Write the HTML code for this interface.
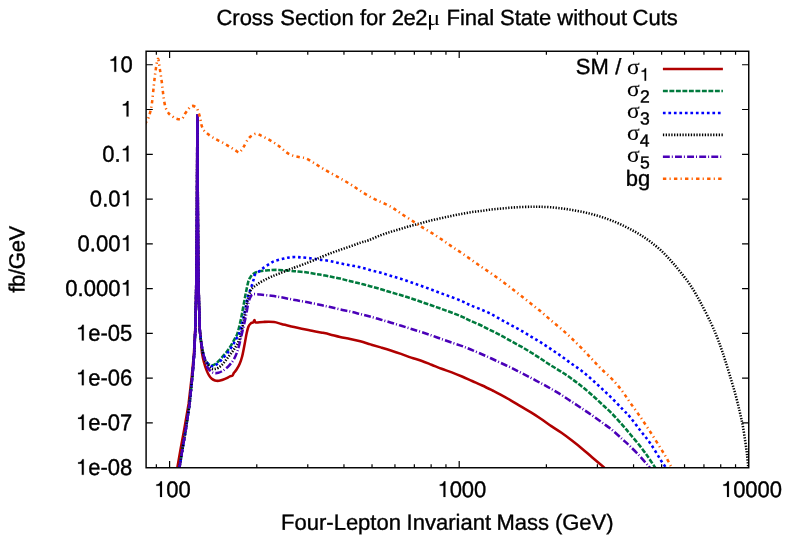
<!DOCTYPE html>
<html><head><meta charset="utf-8"><title>Cross Section</title>
<style>html,body{margin:0;padding:0;background:#fff;width:789px;height:541px;overflow:hidden}</style>
</head><body>
<svg width="789" height="541" viewBox="0 0 789 541" style="display:block;position:absolute;left:0;top:0;will-change:transform">
<rect x="0" y="0" width="789" height="541" fill="#fff"/>
<g>
<rect x="0" y="0" width="789" height="541" fill="#fff"/>
<clipPath id="cp"><rect x="146.1" y="51.25" width="602.65" height="416.5"/></clipPath>
<g clip-path="url(#cp)" fill="none" stroke-linejoin="round">
<path d="M177.30,468.00L180.60,449.00L184.30,428.90L188.60,404.00L191.80,376.20L193.90,354.00L195.20,330.00L196.00,300.00L196.50,270.00L196.90,220.00L197.20,160.00L197.35,115.60L197.45,115.60L197.60,160.00L197.90,220.00L198.30,270.00L198.90,300.00L199.80,330.00" stroke="#b00000" stroke-width="2.55"/>
<path d="M199.80,330.00C200.00,331.85 200.62,337.17 201.00,341.10C201.38,345.03 201.58,350.00 202.10,353.60C202.62,357.20 203.35,359.90 204.10,362.70C204.85,365.50 205.75,368.25 206.60,370.40C207.45,372.55 208.33,374.20 209.20,375.60C210.07,377.00 210.83,377.98 211.80,378.80C212.77,379.62 213.82,380.17 215.00,380.50C216.18,380.83 217.60,380.93 218.90,380.80C220.20,380.67 221.50,380.13 222.80,379.70C224.10,379.27 225.52,378.77 226.70,378.20C227.88,377.63 228.93,376.73 229.90,376.30C230.87,375.87 231.85,376.15 232.50,375.60C233.15,375.05 233.15,373.97 233.80,373.00C234.45,372.03 235.43,371.30 236.40,369.80C237.37,368.30 238.63,366.27 239.60,364.00C240.57,361.73 241.33,359.65 242.20,356.20C243.07,352.75 244.05,347.18 244.80,343.30C245.55,339.42 246.08,335.72 246.70,332.90C247.32,330.08 247.82,327.98 248.50,326.40C249.18,324.82 250.02,324.07 250.80,323.40C251.58,322.73 252.58,322.98 253.20,322.40C253.82,321.82 254.07,319.90 254.50,319.90C254.93,319.90 254.35,322.07 255.80,322.40C257.25,322.73 260.17,321.97 263.20,321.90C266.23,321.83 270.97,321.65 274.00,322.00C277.03,322.35 278.47,323.27 281.40,324.00C284.33,324.73 288.22,325.62 291.60,326.40C294.98,327.18 298.32,327.98 301.70,328.70C305.08,329.42 308.50,330.03 311.90,330.70C315.30,331.37 319.08,332.08 322.10,332.70C325.12,333.32 327.02,333.70 330.00,334.40C332.98,335.10 336.63,336.15 340.00,336.90C343.37,337.65 346.82,338.17 350.20,338.90C353.58,339.63 356.92,340.38 360.30,341.30C363.68,342.22 367.10,343.38 370.50,344.40C373.90,345.42 377.32,346.38 380.70,347.40C384.08,348.42 387.42,349.42 390.80,350.50C394.18,351.58 397.60,352.72 401.00,353.90C404.40,355.08 407.82,356.47 411.20,357.60C414.58,358.73 417.92,359.52 421.30,360.70C424.68,361.88 428.12,363.35 431.50,364.70C434.88,366.05 438.22,367.52 441.60,368.80C444.98,370.08 448.40,371.12 451.80,372.40C455.20,373.68 458.62,375.07 462.00,376.50C465.38,377.93 468.72,379.50 472.10,381.00C475.48,382.50 478.90,383.92 482.30,385.50C485.70,387.08 489.47,388.98 492.50,390.50C495.53,392.02 497.47,392.97 500.50,394.60C503.53,396.23 507.32,398.33 510.70,400.30C514.08,402.27 517.42,404.38 520.80,406.40C524.18,408.42 527.60,410.30 531.00,412.40C534.40,414.50 537.82,416.72 541.20,419.00C544.58,421.28 547.92,423.80 551.30,426.10C554.68,428.40 558.12,430.43 561.50,432.80C564.88,435.17 568.22,437.70 571.60,440.30C574.98,442.90 578.40,445.58 581.80,448.40C585.20,451.22 588.62,454.32 592.00,457.20C595.38,460.08 599.97,463.87 602.10,465.70C604.23,467.53 604.35,467.78 604.80,468.20" stroke="#b00000" stroke-width="2.55"/>
<path d="M179.40,468.00L182.50,449.00L185.90,428.90L189.60,404.00L192.40,376.20L194.20,354.00L195.30,330.00L196.00,300.00L196.50,270.00L196.90,220.00L197.20,160.00L197.35,115.60L197.45,115.60L197.60,160.00L197.90,220.00L198.30,270.00L198.90,300.00L199.80,330.00" stroke="#007a3d" stroke-width="2.55" stroke-dasharray="4.9 1.6"/>
<path d="M199.80,330.00C200.00,331.85 200.48,337.40 201.00,341.10C201.52,344.80 202.32,349.38 202.90,352.20C203.48,355.02 203.98,356.47 204.50,358.00C205.02,359.53 205.22,360.30 206.00,361.40C206.78,362.50 208.12,363.95 209.20,364.60C210.28,365.25 211.42,365.45 212.50,365.30C213.58,365.15 214.52,364.57 215.70,363.70C216.88,362.83 218.32,361.45 219.60,360.10C220.88,358.75 222.12,357.12 223.40,355.60C224.68,354.08 226.00,352.73 227.30,351.00C228.60,349.27 229.90,347.35 231.20,345.20C232.50,343.05 234.05,340.12 235.10,338.10C236.15,336.08 236.55,336.15 237.50,333.10C238.45,330.05 239.83,324.23 240.80,319.80C241.77,315.37 242.47,310.93 243.30,306.50C244.13,302.07 244.97,297.35 245.80,293.20C246.63,289.05 247.47,284.37 248.30,281.60C249.13,278.83 249.83,277.98 250.80,276.60C251.77,275.22 252.58,274.18 254.10,273.30C255.62,272.42 257.55,271.80 259.90,271.30C262.25,270.80 265.15,270.53 268.20,270.30C271.25,270.07 274.57,269.82 278.20,269.90C281.83,269.98 287.10,270.57 290.00,270.80C292.90,271.03 292.97,271.05 295.60,271.30C298.23,271.55 302.40,271.85 305.80,272.30C309.20,272.75 313.63,273.62 316.00,274.00C318.37,274.38 317.63,274.17 320.00,274.60C322.37,275.03 326.82,275.93 330.20,276.60C333.58,277.27 336.92,277.82 340.30,278.60C343.68,279.38 347.10,280.45 350.50,281.30C353.90,282.15 357.32,282.85 360.70,283.70C364.08,284.55 367.42,285.48 370.80,286.40C374.18,287.32 377.60,288.20 381.00,289.20C384.40,290.20 387.82,291.38 391.20,292.40C394.58,293.42 397.92,294.28 401.30,295.30C404.68,296.32 408.12,297.38 411.50,298.50C414.88,299.62 418.22,300.83 421.60,302.00C424.98,303.17 428.40,304.32 431.80,305.50C435.20,306.68 438.62,307.88 442.00,309.10C445.38,310.32 448.72,311.52 452.10,312.80C455.48,314.08 459.32,315.50 462.30,316.80C465.28,318.10 467.02,319.23 470.00,320.60C472.98,321.97 476.82,323.42 480.20,325.00C483.58,326.58 486.92,328.40 490.30,330.10C493.68,331.80 497.10,333.40 500.50,335.20C503.90,337.00 507.32,339.03 510.70,340.90C514.08,342.77 517.42,344.47 520.80,346.40C524.18,348.33 527.60,350.40 531.00,352.50C534.40,354.60 537.82,356.80 541.20,359.00C544.58,361.20 547.92,363.57 551.30,365.70C554.68,367.83 558.12,369.63 561.50,371.80C564.88,373.97 568.22,376.27 571.60,378.70C574.98,381.13 578.40,383.68 581.80,386.40C585.20,389.12 588.62,392.02 592.00,395.00C595.38,397.98 598.72,401.15 602.10,404.30C605.48,407.45 608.90,410.43 612.30,413.90C615.70,417.37 619.52,421.72 622.50,425.10C625.48,428.48 627.23,430.65 630.20,434.20C633.17,437.75 637.25,442.50 640.30,446.40C643.35,450.30 646.18,454.32 648.50,457.60C650.82,460.88 653.02,464.33 654.20,466.10C655.38,467.87 655.37,467.85 655.60,468.20" stroke="#007a3d" stroke-width="2.55" stroke-dasharray="4.9 1.6"/>
<path d="M179.40,468.00L182.50,449.00L185.90,428.90L189.60,404.00L192.40,376.20L194.20,354.00L195.30,330.00L196.00,300.00L196.50,270.00L196.90,220.00L197.20,160.00L197.35,115.60L197.45,115.60L197.60,160.00L197.90,220.00L198.30,270.00L198.90,300.00L199.80,330.00" stroke="#0000ff" stroke-width="2.55" stroke-dasharray="2.7 2.8"/>
<path d="M199.80,330.00C200.00,331.85 200.48,337.40 201.00,341.10C201.52,344.80 202.28,349.33 202.90,352.20C203.52,355.07 204.12,356.67 204.70,358.30C205.28,359.93 205.58,360.82 206.40,362.00C207.22,363.18 208.53,364.70 209.60,365.40C210.67,366.10 211.70,366.30 212.80,366.20C213.90,366.10 214.97,365.63 216.20,364.80C217.43,363.97 218.87,362.53 220.20,361.20C221.53,359.87 222.87,358.33 224.20,356.80C225.53,355.27 226.87,353.77 228.20,352.00C229.53,350.23 230.87,348.37 232.20,346.20C233.53,344.03 234.90,341.47 236.20,339.00C237.50,336.53 238.80,334.90 240.00,331.40C241.20,327.90 242.30,322.85 243.40,318.00C244.50,313.15 245.78,306.15 246.60,302.30C247.42,298.45 247.60,297.20 248.30,294.90C249.00,292.60 249.97,290.87 250.80,288.50C251.63,286.13 252.62,282.97 253.30,280.70C253.98,278.43 253.80,276.55 254.90,274.90C256.00,273.25 258.37,272.05 259.90,270.80C261.43,269.55 262.57,268.52 264.10,267.40C265.63,266.28 267.58,265.07 269.10,264.10C270.62,263.13 271.68,262.28 273.20,261.60C274.72,260.92 276.40,260.50 278.20,260.00C280.00,259.50 282.20,259.02 284.00,258.60C285.80,258.18 287.17,257.77 289.00,257.50C290.83,257.23 292.88,257.01 295.00,257.00C297.12,256.99 298.88,257.21 301.70,257.45C304.52,257.69 308.85,258.08 311.90,258.45C314.95,258.82 316.95,259.22 320.00,259.65C323.05,260.08 326.82,260.43 330.20,261.05C333.58,261.67 336.92,262.63 340.30,263.35C343.68,264.07 347.10,264.68 350.50,265.35C353.90,266.02 357.32,266.53 360.70,267.35C364.08,268.17 367.42,269.33 370.80,270.25C374.18,271.17 377.60,271.90 381.00,272.85C384.40,273.80 387.82,274.93 391.20,275.95C394.58,276.97 397.92,277.87 401.30,278.95C404.68,280.03 408.12,281.27 411.50,282.45C414.88,283.63 418.22,284.83 421.60,286.05C424.98,287.27 428.40,288.48 431.80,289.75C435.20,291.02 438.62,292.40 442.00,293.65C445.38,294.90 448.72,295.97 452.10,297.25C455.48,298.53 459.32,300.05 462.30,301.35C465.28,302.65 467.02,303.75 470.00,305.05C472.98,306.35 476.82,307.72 480.20,309.15C483.58,310.58 486.92,311.95 490.30,313.65C493.68,315.35 497.10,317.47 500.50,319.35C503.90,321.23 507.32,323.10 510.70,324.95C514.08,326.80 517.42,328.52 520.80,330.45C524.18,332.38 527.60,334.52 531.00,336.55C534.40,338.58 537.82,340.52 541.20,342.65C544.58,344.78 547.92,347.07 551.30,349.35C554.68,351.63 558.12,353.95 561.50,356.35C564.88,358.75 568.22,361.32 571.60,363.75C574.98,366.18 578.40,368.30 581.80,370.95C585.20,373.60 588.62,376.67 592.00,379.65C595.38,382.63 598.72,385.70 602.10,388.85C605.48,392.00 608.90,395.17 612.30,398.55C615.70,401.93 619.52,406.03 622.50,409.15C625.48,412.27 627.23,413.70 630.20,417.25C633.17,420.80 636.92,426.05 640.30,430.45C643.68,434.85 647.10,438.73 650.50,443.65C653.90,448.57 658.27,456.15 660.70,459.95C663.13,463.75 664.15,465.02 665.10,466.45C666.05,467.88 666.18,468.20 666.40,468.55" stroke="#0000ff" stroke-width="2.55" stroke-dasharray="2.7 2.8"/>
<path d="M179.40,468.00L182.50,449.00L185.90,428.90L189.60,404.00L192.40,376.20L194.20,354.00L195.30,330.00L196.00,300.00L196.50,270.00L196.90,220.00L197.20,160.00L197.35,115.60L197.45,115.60L197.60,160.00L197.90,220.00L198.30,270.00L198.90,300.00L199.80,330.00" stroke="#000000" stroke-width="2.55" stroke-dasharray="1.3 1.49"/>
<path d="M199.80,330.00C200.00,331.85 200.48,337.40 201.00,341.10C201.52,344.80 202.23,349.05 202.90,352.20C203.57,355.35 204.17,357.82 205.00,360.00C205.83,362.18 206.87,363.88 207.90,365.30C208.93,366.72 210.12,367.87 211.20,368.50C212.28,369.13 213.22,369.22 214.40,369.10C215.58,368.98 217.00,368.55 218.30,367.80C219.60,367.05 220.92,365.88 222.20,364.60C223.48,363.32 224.72,361.72 226.00,360.10C227.28,358.48 228.60,356.63 229.90,354.90C231.20,353.17 232.62,351.42 233.80,349.70C234.98,347.98 236.00,346.47 237.00,344.60C238.00,342.73 239.03,340.70 239.80,338.50C240.57,336.30 240.88,334.80 241.60,331.40C242.32,328.00 243.27,322.53 244.10,318.10C244.93,313.67 245.77,308.67 246.60,304.80C247.43,300.93 248.27,297.53 249.10,294.90C249.93,292.27 250.35,290.67 251.60,289.00C252.85,287.33 254.67,286.28 256.60,284.90C258.53,283.52 260.72,282.08 263.20,280.70C265.68,279.32 268.72,277.83 271.50,276.60C274.28,275.37 276.82,274.55 279.90,273.30C282.98,272.05 287.38,270.12 290.00,269.10C292.62,268.08 292.97,268.15 295.60,267.20C298.23,266.25 302.40,264.72 305.80,263.40C309.20,262.08 313.63,260.28 316.00,259.30C318.37,258.32 317.63,258.48 320.00,257.50C322.37,256.52 326.82,254.68 330.20,253.40C333.58,252.12 336.92,250.98 340.30,249.80C343.68,248.62 347.10,247.50 350.50,246.30C353.90,245.10 357.65,243.62 360.70,242.60C363.75,241.58 365.58,241.38 368.80,240.20C372.02,239.02 376.43,236.87 380.00,235.50C383.57,234.13 386.82,233.08 390.20,232.00C393.58,230.92 396.92,230.02 400.30,229.00C403.68,227.98 407.10,226.85 410.50,225.90C413.90,224.95 417.32,224.20 420.70,223.30C424.08,222.40 427.42,221.35 430.80,220.50C434.18,219.65 437.60,218.95 441.00,218.20C444.40,217.45 447.82,216.72 451.20,216.00C454.58,215.28 457.92,214.55 461.30,213.90C464.68,213.25 468.17,212.60 471.50,212.10C474.83,211.60 477.97,211.33 481.30,210.90C484.63,210.47 488.10,209.90 491.50,209.50C494.90,209.10 498.32,208.82 501.70,208.50C505.08,208.18 508.42,207.85 511.80,207.60C515.18,207.35 518.60,207.13 522.00,207.00C525.40,206.87 529.20,206.83 532.20,206.80C535.20,206.77 537.00,206.73 540.00,206.80C543.00,206.87 546.80,206.95 550.20,207.20C553.60,207.45 557.02,207.88 560.40,208.30C563.78,208.72 567.12,209.17 570.50,209.70C573.88,210.23 577.30,210.80 580.70,211.50C584.10,212.20 587.52,213.02 590.90,213.90C594.28,214.78 597.62,215.72 601.00,216.80C604.38,217.88 607.82,219.08 611.20,220.40C614.58,221.72 617.92,223.13 621.30,224.70C624.68,226.27 628.10,227.97 631.50,229.80C634.90,231.63 638.32,233.53 641.70,235.70C645.08,237.87 648.42,240.20 651.80,242.80C655.18,245.40 658.68,248.17 662.00,251.30C665.32,254.43 668.58,258.08 671.70,261.60C674.82,265.12 677.50,268.33 680.70,272.40C683.90,276.47 687.52,280.85 690.90,286.00C694.28,291.15 697.62,297.03 701.00,303.30C704.38,309.57 708.48,317.85 711.20,323.60C713.92,329.35 715.60,333.57 717.30,337.80C719.00,342.03 720.08,345.23 721.40,349.00C722.72,352.77 723.68,355.62 725.20,360.40C726.72,365.18 728.77,371.93 730.50,377.70C732.23,383.47 734.08,389.42 735.60,395.00C737.12,400.58 738.42,406.13 739.60,411.20C740.78,416.27 741.75,420.32 742.70,425.40C743.65,430.48 744.55,436.62 745.30,441.70C746.05,446.78 746.70,451.53 747.20,455.90C747.70,460.27 748.12,465.90 748.30,467.90" stroke="#000000" stroke-width="2.55" stroke-dasharray="1.3 1.49"/>
<path d="M192.40,376.20L194.20,354.00L195.30,330.00L196.00,300.00L196.50,270.00L196.90,220.00L197.20,160.00L197.35,115.60L197.45,115.60L197.60,160.00L197.90,220.00L198.30,270.00L198.90,300.00L199.80,330.00" stroke="#4a00b8" stroke-width="2.55"/>
<path d="M179.40,468.00L182.50,449.00L185.90,428.90L189.60,404.00L192.40,376.20L194.20,354.00L195.30,330.00L196.00,300.00L196.50,270.00L196.90,220.00L197.20,160.00L197.35,115.60L197.45,115.60L197.60,160.00L197.90,220.00L198.30,270.00L198.90,300.00L199.80,330.00" stroke="#4a00b8" stroke-width="2.55" stroke-dasharray="6.9 2.0 1.0 2.2"/>
<path d="M199.80,330.00C200.00,331.85 200.48,337.40 201.00,341.10C201.52,344.80 202.23,348.97 202.90,352.20C203.57,355.43 204.27,358.00 205.00,360.50C205.73,363.00 206.38,365.43 207.30,367.20C208.22,368.97 209.32,370.13 210.50,371.10C211.68,372.07 213.10,372.72 214.40,373.00C215.70,373.28 217.00,373.12 218.30,372.80C219.60,372.48 220.92,371.82 222.20,371.10C223.48,370.38 224.72,369.58 226.00,368.50C227.28,367.42 228.60,366.12 229.90,364.60C231.20,363.08 232.62,361.45 233.80,359.40C234.98,357.35 236.03,354.98 237.00,352.30C237.97,349.62 238.72,346.68 239.60,343.30C240.48,339.92 241.27,336.47 242.30,332.00C243.33,327.53 244.80,321.30 245.80,316.50C246.80,311.70 247.47,306.53 248.30,303.20C249.13,299.87 249.97,298.00 250.80,296.50C251.63,295.00 251.78,294.52 253.30,294.20C254.82,293.88 256.87,294.33 259.90,294.60C262.93,294.87 267.92,295.35 271.50,295.80C275.08,296.25 278.05,296.70 281.40,297.30C284.75,297.90 288.22,298.75 291.60,299.40C294.98,300.05 298.32,300.57 301.70,301.20C305.08,301.83 308.50,302.52 311.90,303.20C315.30,303.88 319.05,304.65 322.10,305.30C325.15,305.95 327.17,306.40 330.20,307.10C333.23,307.80 336.92,308.75 340.30,309.50C343.68,310.25 347.10,310.82 350.50,311.60C353.90,312.38 357.32,313.33 360.70,314.20C364.08,315.07 367.42,315.88 370.80,316.80C374.18,317.72 377.60,318.72 381.00,319.70C384.40,320.68 387.82,321.68 391.20,322.70C394.58,323.72 397.92,324.75 401.30,325.80C404.68,326.85 408.12,327.95 411.50,329.00C414.88,330.05 418.22,331.02 421.60,332.10C424.98,333.18 428.40,334.32 431.80,335.50C435.20,336.68 438.62,338.00 442.00,339.20C445.38,340.40 448.72,341.55 452.10,342.70C455.48,343.85 459.28,345.00 462.30,346.10C465.32,347.20 467.22,348.07 470.20,349.30C473.18,350.53 476.85,352.05 480.20,353.50C483.55,354.95 486.92,356.45 490.30,358.00C493.68,359.55 497.10,361.23 500.50,362.80C503.90,364.37 507.32,365.77 510.70,367.40C514.08,369.03 517.42,370.85 520.80,372.60C524.18,374.35 527.60,376.10 531.00,377.90C534.40,379.70 537.82,381.57 541.20,383.40C544.58,385.23 547.92,386.97 551.30,388.90C554.68,390.83 558.12,392.87 561.50,395.00C564.88,397.13 568.22,399.47 571.60,401.70C574.98,403.93 578.40,406.13 581.80,408.40C585.20,410.67 588.62,412.93 592.00,415.30C595.38,417.67 598.72,420.13 602.10,422.60C605.48,425.07 608.90,427.32 612.30,430.10C615.70,432.88 619.52,436.58 622.50,439.30C625.48,442.02 627.23,443.52 630.20,446.40C633.17,449.28 637.25,453.32 640.30,456.60C643.35,459.88 646.85,464.17 648.50,466.10C650.15,468.03 649.92,467.85 650.20,468.20" stroke="#4a00b8" stroke-width="2.55" stroke-dasharray="6.9 2.0 1.0 2.2"/>
<path d="M145.00,124.00C145.18,123.70 145.42,123.50 146.10,122.20C146.78,120.90 148.15,119.23 149.10,116.20C150.05,113.17 151.02,109.08 151.80,104.00C152.58,98.92 153.18,91.13 153.80,85.70C154.42,80.27 154.82,75.88 155.50,71.40C156.18,66.92 157.17,59.13 157.90,58.80C158.63,58.47 159.22,65.27 159.90,69.40C160.58,73.53 161.42,79.20 162.00,83.60C162.58,88.00 162.83,91.90 163.40,95.80C163.97,99.70 164.55,104.12 165.40,107.00C166.25,109.88 167.73,111.85 168.50,113.10C169.27,114.35 168.77,113.60 170.00,114.50C171.23,115.40 173.93,117.77 175.90,118.50C177.87,119.23 180.32,119.65 181.80,118.90C183.28,118.15 183.68,115.67 184.80,114.00C185.92,112.33 187.27,110.25 188.50,108.90C189.73,107.55 190.85,106.03 192.20,105.90C193.55,105.77 195.50,106.87 196.60,108.10C197.70,109.33 198.18,111.57 198.80,113.30C199.42,115.03 199.88,116.65 200.30,118.50C200.72,120.35 200.80,122.55 201.30,124.40C201.80,126.25 202.37,128.12 203.30,129.60C204.23,131.08 205.07,131.83 206.90,133.30C208.73,134.77 211.83,136.93 214.30,138.40C216.77,139.87 219.23,140.77 221.70,142.10C224.17,143.43 226.80,145.02 229.10,146.40C231.40,147.78 233.87,149.38 235.50,150.40C237.13,151.42 238.05,152.37 238.90,152.50C239.75,152.63 239.88,152.00 240.60,151.20C241.32,150.40 241.95,149.73 243.20,147.70C244.45,145.67 246.58,141.07 248.10,139.00C249.62,136.93 250.90,136.20 252.30,135.30C253.70,134.40 254.98,133.52 256.50,133.60C258.02,133.68 259.67,134.97 261.40,135.80C263.13,136.63 265.17,137.67 266.90,138.60C268.63,139.53 270.17,140.43 271.80,141.40C273.43,142.37 275.18,143.35 276.70,144.40C278.22,145.45 279.50,146.58 280.90,147.70C282.30,148.82 283.70,150.02 285.10,151.10C286.50,152.18 287.68,153.35 289.30,154.20C290.92,155.05 292.95,155.67 294.80,156.20C296.65,156.73 298.53,157.02 300.40,157.40C302.27,157.78 303.63,157.50 306.00,158.50C308.37,159.50 311.65,161.63 314.60,163.40C317.55,165.17 320.48,167.20 323.70,169.10C326.92,171.00 330.68,173.00 333.90,174.80C337.12,176.60 339.95,178.13 343.00,179.90C346.05,181.67 349.15,183.47 352.20,185.40C355.25,187.33 358.08,189.47 361.30,191.50C364.52,193.53 368.12,195.80 371.50,197.60C374.88,199.40 378.22,200.68 381.60,202.30C384.98,203.92 388.68,205.50 391.80,207.30C394.92,209.10 397.18,211.05 400.30,213.10C403.42,215.15 407.10,217.38 410.50,219.60C413.90,221.82 417.32,224.27 420.70,226.40C424.08,228.53 427.42,230.30 430.80,232.40C434.18,234.50 437.60,236.72 441.00,239.00C444.40,241.28 447.82,243.80 451.20,246.10C454.58,248.40 457.92,250.50 461.30,252.80C464.68,255.10 468.12,257.53 471.50,259.90C474.88,262.27 478.22,264.67 481.60,267.00C484.98,269.33 488.40,271.53 491.80,273.90C495.20,276.27 498.62,278.72 502.00,281.20C505.38,283.68 508.97,286.40 512.10,288.80C515.23,291.20 517.65,293.12 520.80,295.60C523.95,298.08 527.60,301.00 531.00,303.70C534.40,306.40 537.82,308.98 541.20,311.80C544.58,314.62 547.92,317.72 551.30,320.60C554.68,323.48 558.12,326.15 561.50,329.10C564.88,332.05 568.22,335.08 571.60,338.30C574.98,341.52 578.40,344.92 581.80,348.40C585.20,351.88 588.78,355.80 592.00,359.20C595.22,362.60 597.72,365.45 601.10,368.80C604.48,372.15 608.73,375.52 612.30,379.30C615.87,383.08 619.52,387.60 622.50,391.50C625.48,395.40 627.23,398.47 630.20,402.70C633.17,406.93 636.92,411.98 640.30,416.90C643.68,421.82 647.10,426.95 650.50,432.20C653.90,437.45 657.98,444.00 660.70,448.40C663.42,452.80 665.12,455.65 666.80,458.60C668.48,461.55 669.93,464.48 670.80,466.10C671.67,467.72 671.80,467.93 672.00,468.30" stroke="#ff6000" stroke-width="2.55" stroke-dasharray="3.4 3.2 1.2 3.25"/>
</g>
<path d="M662.9,69.00H722.9" stroke="#b00000" stroke-width="2.55" fill="none"/>
<path d="M662.9,90.96H722.9" stroke="#007a3d" stroke-width="2.55" fill="none" stroke-dasharray="4.9 1.6"/>
<path d="M662.9,112.92H722.9" stroke="#0000ff" stroke-width="2.55" fill="none" stroke-dasharray="2.7 2.8"/>
<path d="M662.9,134.88H722.9" stroke="#000000" stroke-width="2.55" fill="none" stroke-dasharray="1.3 1.49"/>
<path d="M662.9,156.84H722.9" stroke="#4a00b8" stroke-width="2.55" fill="none" stroke-dasharray="6.9 2.0 1.0 2.2"/>
<path d="M662.9,178.80H722.9" stroke="#ff6000" stroke-width="2.55" fill="none" stroke-dasharray="3.4 3.2 1.2 3.25"/>
<g stroke="#000" stroke-width="1.45" fill="none">
<rect x="146.1" y="51.25" width="602.65" height="416.5"/>
<path d="M146.1,422.91h6.7M748.75,422.91h-6.7M146.1,378.14h6.7M748.75,378.14h-6.7M146.1,333.37h6.7M748.75,333.37h-6.7M146.1,288.60h6.7M748.75,288.60h-6.7M146.1,243.83h6.7M748.75,243.83h-6.7M146.1,199.06h6.7M748.75,199.06h-6.7M146.1,154.29h6.7M748.75,154.29h-6.7M146.1,109.52h6.7M748.75,109.52h-6.7M146.1,64.75h6.7M748.75,64.75h-6.7M156.35,467.75v-3.4M156.35,51.25v3.4M169.60,467.75v-6.7M169.60,51.25v6.7M256.78,467.75v-3.4M256.78,51.25v3.4M307.77,467.75v-3.4M307.77,51.25v3.4M343.96,467.75v-3.4M343.96,51.25v3.4M372.02,467.75v-3.4M372.02,51.25v3.4M394.95,467.75v-3.4M394.95,51.25v3.4M414.34,467.75v-3.4M414.34,51.25v3.4M431.13,467.75v-3.4M431.13,51.25v3.4M445.95,467.75v-3.4M445.95,51.25v3.4M459.20,467.75v-6.7M459.20,51.25v6.7M546.38,467.75v-3.4M546.38,51.25v3.4M597.37,467.75v-3.4M597.37,51.25v3.4M633.56,467.75v-3.4M633.56,51.25v3.4M661.62,467.75v-3.4M661.62,51.25v3.4M684.55,467.75v-3.4M684.55,51.25v3.4M703.94,467.75v-3.4M703.94,51.25v3.4M720.73,467.75v-3.4M720.73,51.25v3.4M735.55,467.75v-3.4M735.55,51.25v3.4" stroke-width="1.2"/>
</g>
<g font-family="Liberation Sans, sans-serif" font-size="22.0px" fill="#000" stroke="#000" stroke-width="0.36" stroke-linejoin="round">
<path transform="translate(108.30,71.85) scale(22.0,-22.0)" d="M0.359,0L0.271,0L0.271,0.505L0.101,0.505L0.101,0.566C0.190,0.572 0.262,0.605 0.293,0.709L0.359,0.709Z" stroke-width="0.0082"/>
<text x="120.60" y="71.85" transform="rotate(0.03 120.6 71.8) translate(0,64.04) scale(1,1.04) translate(0,-64.04)">0</text>
<path transform="translate(120.60,116.62) scale(22.0,-22.0)" d="M0.359,0L0.271,0L0.271,0.505L0.101,0.505L0.101,0.566C0.190,0.572 0.262,0.605 0.293,0.709L0.359,0.709Z" stroke-width="0.0082"/>
<path transform="translate(120.60,161.39) scale(22.0,-22.0)" d="M0.359,0L0.271,0L0.271,0.505L0.101,0.505L0.101,0.566C0.190,0.572 0.262,0.605 0.293,0.709L0.359,0.709Z" stroke-width="0.0082"/>
<text x="102.18 114.48" y="161.39" transform="rotate(0.03 108.3 161.4) translate(0,153.58) scale(1,1.04) translate(0,-153.58)">0.</text>
<path transform="translate(120.60,206.16) scale(22.0,-22.0)" d="M0.359,0L0.271,0L0.271,0.505L0.101,0.505L0.101,0.566C0.190,0.572 0.262,0.605 0.293,0.709L0.359,0.709Z" stroke-width="0.0082"/>
<text x="89.88 102.18 108.30" y="206.16" transform="rotate(0.03 99.1 206.2) translate(0,198.35) scale(1,1.04) translate(0,-198.35)">0.0</text>
<path transform="translate(120.60,250.93) scale(22.0,-22.0)" d="M0.359,0L0.271,0L0.271,0.505L0.101,0.505L0.101,0.566C0.190,0.572 0.262,0.605 0.293,0.709L0.359,0.709Z" stroke-width="0.0082"/>
<text x="77.58 89.88 96.00 108.30" y="250.93" transform="rotate(0.03 92.9 250.9) translate(0,243.12) scale(1,1.04) translate(0,-243.12)">0.00</text>
<path transform="translate(120.60,295.70) scale(22.0,-22.0)" d="M0.359,0L0.271,0L0.271,0.505L0.101,0.505L0.101,0.566C0.190,0.572 0.262,0.605 0.293,0.709L0.359,0.709Z" stroke-width="0.0082"/>
<text x="65.28 77.58 83.70 96.00 108.30" y="295.70" transform="rotate(0.03 86.8 295.7) translate(0,287.89) scale(1,1.04) translate(0,-287.89)">0.000</text>
<path transform="translate(75.87,340.47) scale(22.0,-22.0)" d="M0.359,0L0.271,0L0.271,0.505L0.101,0.505L0.101,0.566C0.190,0.572 0.262,0.605 0.293,0.709L0.359,0.709Z" stroke-width="0.0082"/>
<text x="88.17 100.47 107.80 120.10" y="340.47" transform="rotate(0.03 104.1 340.5) translate(0,332.66) scale(1,1.04) translate(0,-332.66)">e-05</text>
<path transform="translate(75.87,385.24) scale(22.0,-22.0)" d="M0.359,0L0.271,0L0.271,0.505L0.101,0.505L0.101,0.566C0.190,0.572 0.262,0.605 0.293,0.709L0.359,0.709Z" stroke-width="0.0082"/>
<text x="88.17 100.47 107.80 120.10" y="385.24" transform="rotate(0.03 104.1 385.2) translate(0,377.43) scale(1,1.04) translate(0,-377.43)">e-06</text>
<path transform="translate(75.87,430.01) scale(22.0,-22.0)" d="M0.359,0L0.271,0L0.271,0.505L0.101,0.505L0.101,0.566C0.190,0.572 0.262,0.605 0.293,0.709L0.359,0.709Z" stroke-width="0.0082"/>
<text x="88.17 100.47 107.80 120.10" y="430.01" transform="rotate(0.03 104.1 430.0) translate(0,422.20) scale(1,1.04) translate(0,-422.20)">e-07</text>
<path transform="translate(75.87,474.78) scale(22.0,-22.0)" d="M0.359,0L0.271,0L0.271,0.505L0.101,0.505L0.101,0.566C0.190,0.572 0.262,0.605 0.293,0.709L0.359,0.709Z" stroke-width="0.0082"/>
<text x="88.17 100.47 107.80 120.10" y="474.78" transform="rotate(0.03 104.1 474.8) translate(0,466.97) scale(1,1.04) translate(0,-466.97)">e-08</text>
<path transform="translate(154.09,496.95) scale(22.0,-22.0)" d="M0.359,0L0.271,0L0.271,0.505L0.101,0.505L0.101,0.566C0.190,0.572 0.262,0.605 0.293,0.709L0.359,0.709Z" stroke-width="0.0082"/>
<text x="166.24 178.39" y="496.95" transform="rotate(0.03 172.3 496.9) translate(0,489.14) scale(1,1.04) translate(0,-489.14)">00</text>
<path transform="translate(437.51,496.95) scale(22.0,-22.0)" d="M0.359,0L0.271,0L0.271,0.505L0.101,0.505L0.101,0.566C0.190,0.572 0.262,0.605 0.293,0.709L0.359,0.709Z" stroke-width="0.0082"/>
<text x="449.66 461.81 473.96" y="496.95" transform="rotate(0.03 461.8 496.9) translate(0,489.14) scale(1,1.04) translate(0,-489.14)">000</text>
<path transform="translate(721.04,496.95) scale(22.0,-22.0)" d="M0.359,0L0.271,0L0.271,0.505L0.101,0.505L0.101,0.566C0.190,0.572 0.262,0.605 0.293,0.709L0.359,0.709Z" stroke-width="0.0082"/>
<text x="733.19 745.34 757.49 769.64" y="496.95" transform="rotate(0.03 751.4 496.9) translate(0,489.14) scale(1,1.04) translate(0,-489.14)">0000</text>
<text x="216.43" y="25.10" transform="rotate(0.03 245.3 25.1)">Cross</text>
<text x="280.30" y="25.10" transform="rotate(0.03 316.8 25.1)">Section</text>
<text x="359.93" y="25.10" transform="rotate(0.03 372.8 25.1)">for</text>
<text x="391.68" y="25.10" transform="rotate(0.03 409.6 25.1)" letter-spacing="-0.400">2e2</text>
<text x="446.55" y="25.10" transform="rotate(0.03 470.6 25.1)">Final</text>
<text x="499.96" y="25.10" transform="rotate(0.03 525.6 25.1)">State</text>
<text x="557.30" y="25.10" transform="rotate(0.03 592.0 25.1)">without</text>
<text x="632.59" y="25.10" transform="rotate(0.03 655.4 25.1)">Cuts</text>
<text transform="rotate(0.03 434.1 25.1) translate(434.10,25.1) scale(1.118,1) translate(-6.31,0)" font-family="Liberation Serif, serif" font-size="22.0px" stroke-width="0.0">μ</text>
<text x="281.09" y="529.75" transform="rotate(0.03 341.1 529.8)">Four-Lepton</text>
<text x="406.62" y="529.75" transform="rotate(0.03 449.8 529.8)">Invariant</text>
<text x="496.55" y="529.75" transform="rotate(0.03 523.3 529.8)">Mass</text>
<text x="554.88" y="529.75" transform="rotate(0.03 584.2 529.8)">(GeV)</text>
<text x="575.78" y="73.95" transform="rotate(0.03 591.9 74.0)">SM</text>
<text x="615.34" y="73.95" transform="rotate(0.03 618.4 74.0)">/</text>
<text transform="rotate(0.03 633.7 74.0) translate(633.70,73.95) scale(1.070,1) translate(-6.19,0)" font-family="Liberation Serif, serif" font-size="22.0px" stroke-width="0.15">σ</text>
<text transform="rotate(0.03 633.7 95.9) translate(633.70,95.9) scale(1.070,1) translate(-6.19,0)" font-family="Liberation Serif, serif" font-size="22.0px" stroke-width="0.15">σ</text>
<text transform="rotate(0.03 633.7 117.8) translate(633.70,117.85) scale(1.070,1) translate(-6.19,0)" font-family="Liberation Serif, serif" font-size="22.0px" stroke-width="0.15">σ</text>
<text transform="rotate(0.03 633.7 139.8) translate(633.70,139.8) scale(1.070,1) translate(-6.19,0)" font-family="Liberation Serif, serif" font-size="22.0px" stroke-width="0.15">σ</text>
<text transform="rotate(0.03 633.7 161.8) translate(633.70,161.75) scale(1.070,1) translate(-6.19,0)" font-family="Liberation Serif, serif" font-size="22.0px" stroke-width="0.15">σ</text>
<text x="625.76" y="185.85" transform="rotate(0.03 638.0 185.8)">bg</text>
<path transform="translate(639.80,80.65) scale(17.6,-17.6)" d="M0.359,0L0.271,0L0.271,0.505L0.101,0.505L0.101,0.566C0.190,0.572 0.262,0.605 0.293,0.709L0.359,0.709Z" stroke-width="0.0102"/>
<text x="640.00" y="102.60" font-size="17.60px" transform="rotate(0.03 640.0 102.6)">2</text>
<text x="640.00" y="124.55" font-size="17.60px" transform="rotate(0.03 640.0 124.5)">3</text>
<text x="639.70" y="146.50" font-size="17.60px" transform="rotate(0.03 639.7 146.5)">4</text>
<text x="640.00" y="168.45" font-size="17.60px" transform="rotate(0.03 640.0 168.4)">5</text>
<text transform="translate(24.4,259.35) rotate(-89.97)" text-anchor="middle" letter-spacing="-0.3">fb/GeV</text>
</g>
</g>
</svg>
</body></html>
